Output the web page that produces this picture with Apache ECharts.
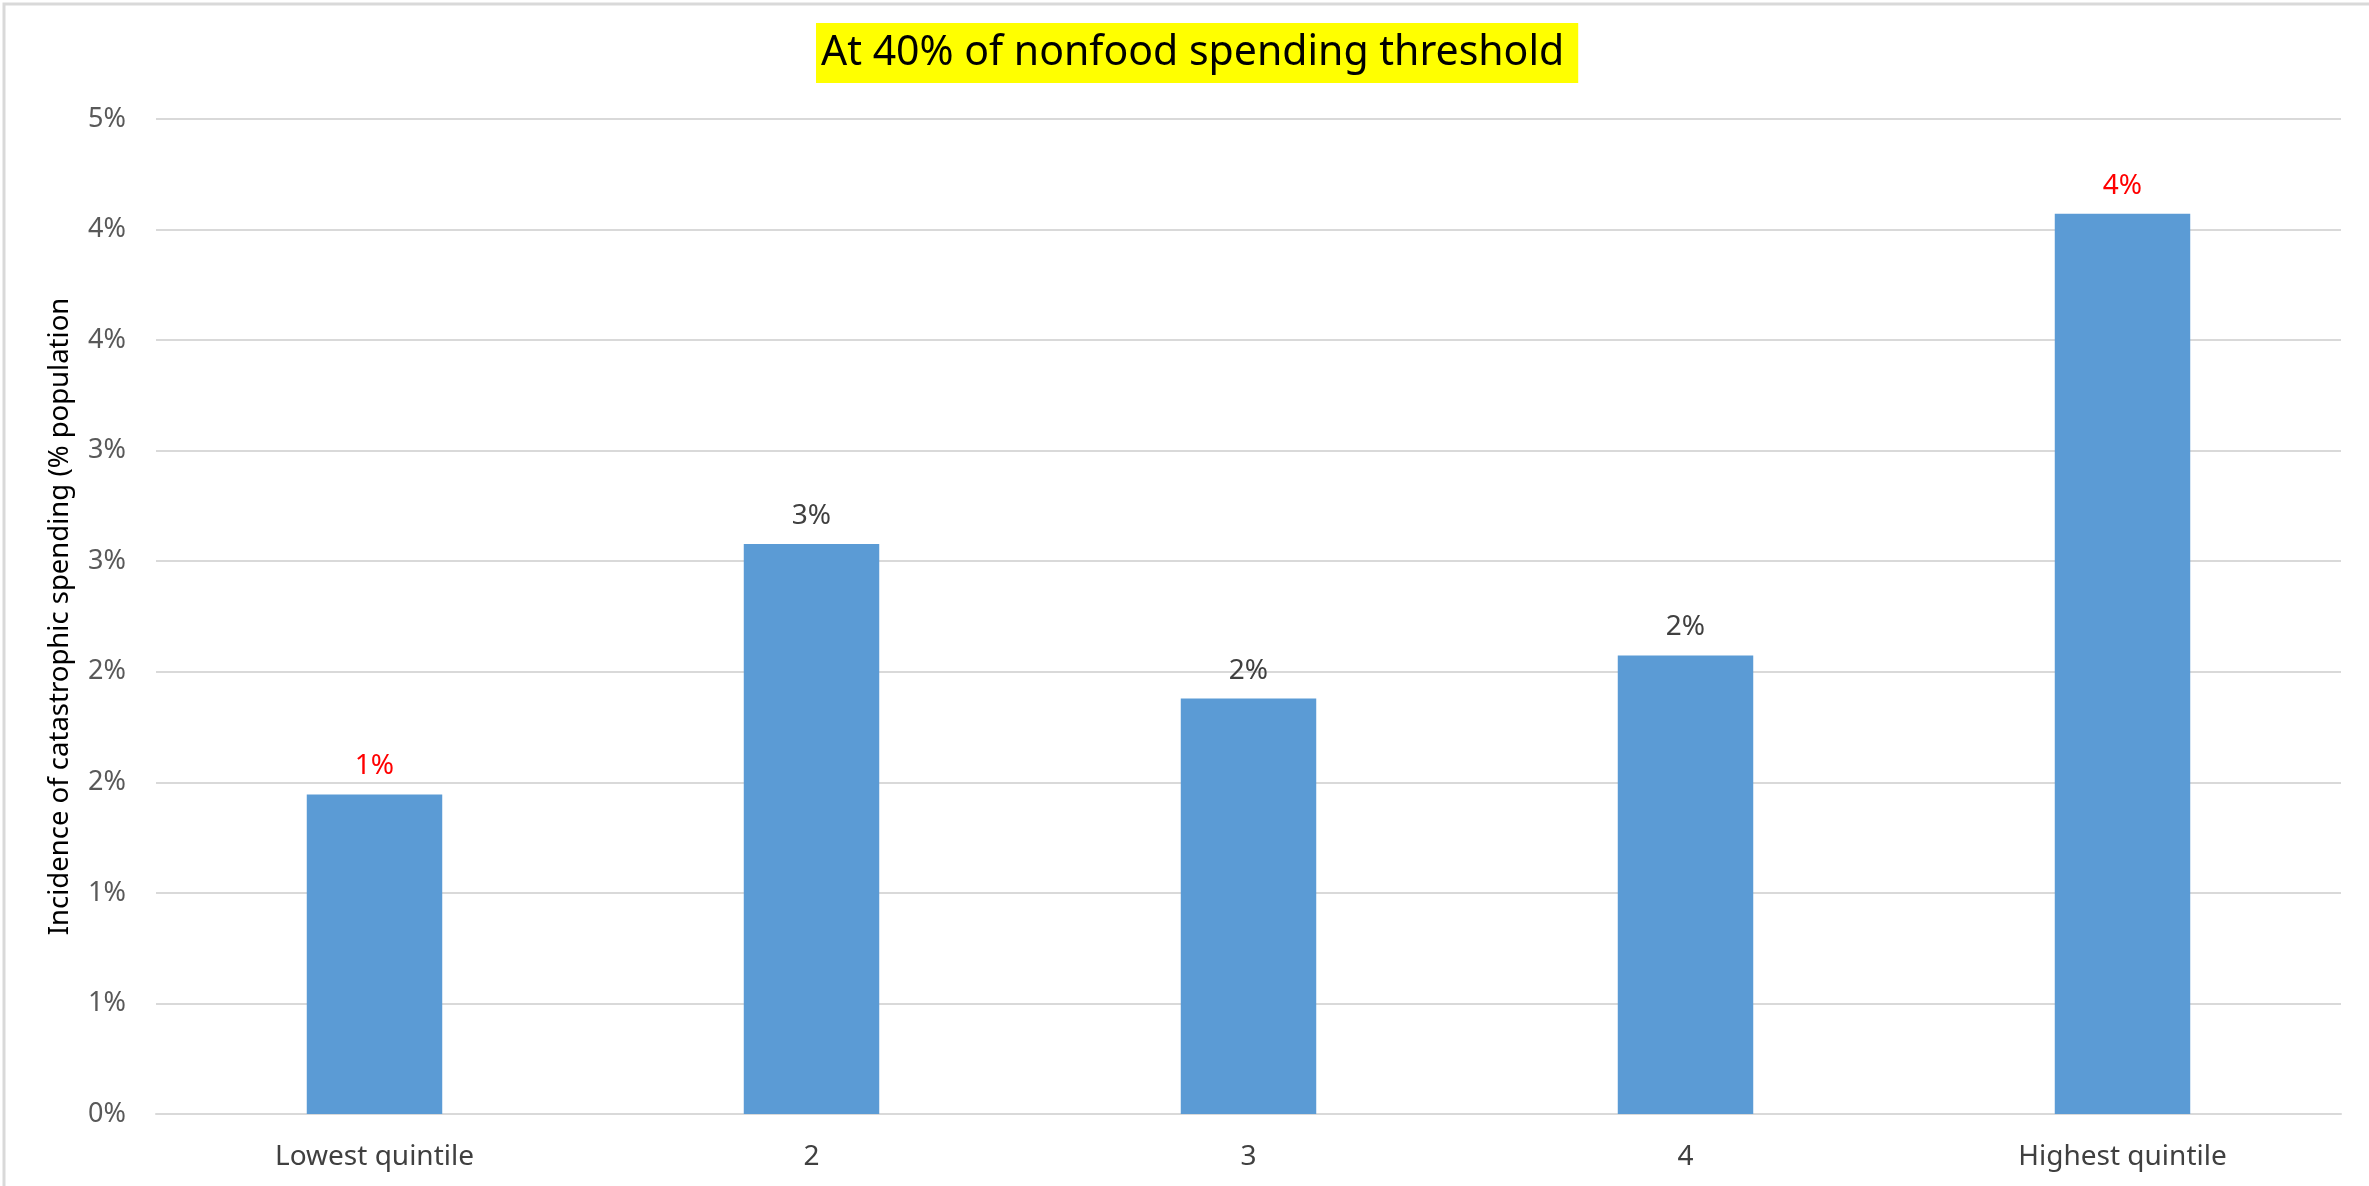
<!DOCTYPE html>
<html>
<head>
<meta charset="utf-8">
<script src="https://cdn.jsdelivr.net/npm/echarts@6/dist/echarts.min.js"></script>
<style>
  html, body { margin: 0; padding: 0; background: #ffffff; }
  #chart { width: 2369px; height: 1186px; }
</style>
</head>
<body>
<div id="chart"></div>
<script>
const titleText = 'At 40% of nonfood spending threshold';
const yAxisTitle = 'Incidence of catastrophic spending (% population';
const categories = ['Lowest quintile', '2', '3', '4', 'Highest quintile'];
const values = [1.445, 2.578, 1.879, 2.074, 4.072];
const redLabelIndex = [0, 4];
const yMin = 0;
const yMax = 4.5;
const yStep = 0.5;

const FONT = "'Noto Sans', 'Open Sans', sans-serif";
const chart = echarts.init(document.getElementById('chart'), null, { renderer: 'canvas' });

const seriesData = values.map((v, i) => ({
  value: v,
  label: { color: redLabelIndex.includes(i) ? '#FF0000' : '#404040' }
}));

chart.setOption({
  backgroundColor: '#ffffff',
  animation: false,
  title: {
    text: titleText,
    left: 816,
    top: 23,
    backgroundColor: '#FFFF00',
    padding: [4, 14, 4, 5],
    textStyle: { fontFamily: FONT, fontSize: 41, fontWeight: 'normal', color: '#000000', lineHeight: 52 }
  },
  graphic: [{
    type: 'rect',
    shape: { x: 4, y: 4, width: 2400, height: 1200 },
    style: { fill: 'none', stroke: '#d9d9d9', lineWidth: 3 },
    silent: true
  }],
  grid: { left: 156, right: 28, top: 119, bottom: 72, containLabel: false },
  xAxis: {
    type: 'category',
    data: categories,
    axisLine: { show: true, lineStyle: { color: '#d9d9d9', width: 2 } },
    axisTick: { show: false },
    axisLabel: { fontFamily: FONT, fontSize: 28, color: '#404040', margin: 29 }
  },
  yAxis: {
    type: 'value',
    min: yMin,
    max: yMax,
    interval: yStep,
    name: yAxisTitle,
    nameLocation: 'middle',
    nameGap: 82,
    nameRotate: 90,
    nameTextStyle: { fontFamily: FONT, fontSize: 27.5, color: '#000000' },
    axisLine: { show: false },
    axisTick: { show: false },
    splitLine: { show: true, lineStyle: { color: '#d9d9d9', width: 2 } },
    axisLabel: {
      fontFamily: FONT, fontSize: 27, color: '#595959', margin: 30,
      formatter: v => Math.round(v) + '%'
    }
  },
  series: [{
    type: 'bar',
    data: seriesData,
    barWidth: '31%',
    itemStyle: { color: '#5B9BD5' },
    label: {
      show: true,
      position: 'top',
      distance: 14,
      fontFamily: FONT,
      fontSize: 28,
      formatter: p => Math.round(p.value) + '%'
    }
  }]
});
</script>
</body>
</html>
